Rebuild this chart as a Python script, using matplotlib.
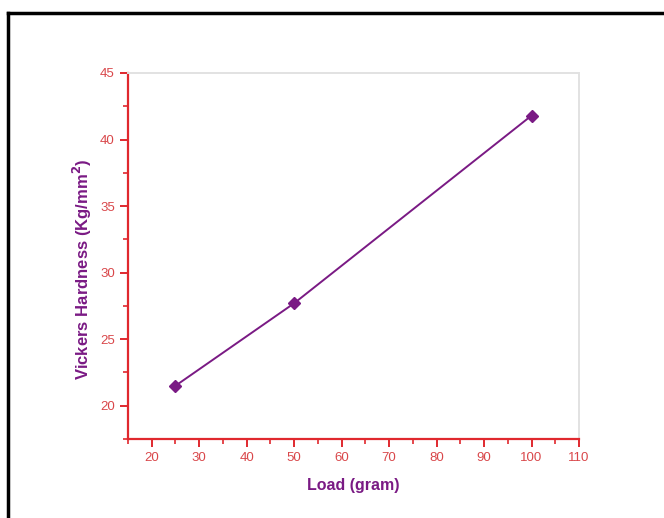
import matplotlib
matplotlib.use("Agg")
import matplotlib.pyplot as plt
from matplotlib.lines import Line2D
from matplotlib.ticker import MultipleLocator

plt.rcParams["font.family"] = ["Liberation Sans", "DejaVu Sans"]

# data
load = [25, 50, 100]
hardness = [21.5, 27.7, 41.8]

axis_red = "#e0282e"
tick_red = "#d9474a"
purple = "#7a1a84"

fig = plt.figure(figsize=(6.64, 5.18), dpi=100)
ax = fig.add_axes([128 / 664, 1 - 439 / 518, (579 - 128) / 664, (439 - 73) / 518])

ax.plot(load, hardness, "-D", color=purple, lw=1.4, markersize=6)

ax.set_xlim(15, 110)
ax.set_ylim(17.5, 45)
ax.xaxis.set_major_locator(MultipleLocator(10))
ax.xaxis.set_minor_locator(MultipleLocator(5))
ax.yaxis.set_major_locator(MultipleLocator(5))
ax.yaxis.set_minor_locator(MultipleLocator(2.5))
ax.set_xticks(range(20, 111, 10))

for side in ["left", "bottom"]:
    ax.spines[side].set_color(axis_red)
    ax.spines[side].set_linewidth(1.6)
for side in ["top", "right"]:
    ax.spines[side].set_color("#e2e2e2")
    ax.spines[side].set_linewidth(1.4)

ax.tick_params(which="major", direction="out", length=6, width=1.4, color=axis_red,
               labelcolor=tick_red, labelsize=9.5)
ax.tick_params(which="minor", direction="out", length=3.5, width=1.2, color=axis_red)

ax.set_xlabel("Load (gram)", color=purple, fontweight="bold", fontsize=11.5, labelpad=10)
ax.set_ylabel("Vickers Hardness (Kg/mm$^\\mathbf{2}$)", color=purple, fontweight="bold",
              fontsize=12)
ax.yaxis.set_label_coords(-0.075, 0.465)

# black frame on the top and left of the picture
fig.add_artist(Line2D([8 / 664, 1], [1 - 13 / 518, 1 - 13 / 518], color="black", lw=2.5,
                      transform=fig.transFigure))
fig.add_artist(Line2D([8 / 664, 8 / 664], [0, 1 - 13 / 518], color="black", lw=2.5,
                      transform=fig.transFigure))

fig.savefig("out.png", dpi=100)
